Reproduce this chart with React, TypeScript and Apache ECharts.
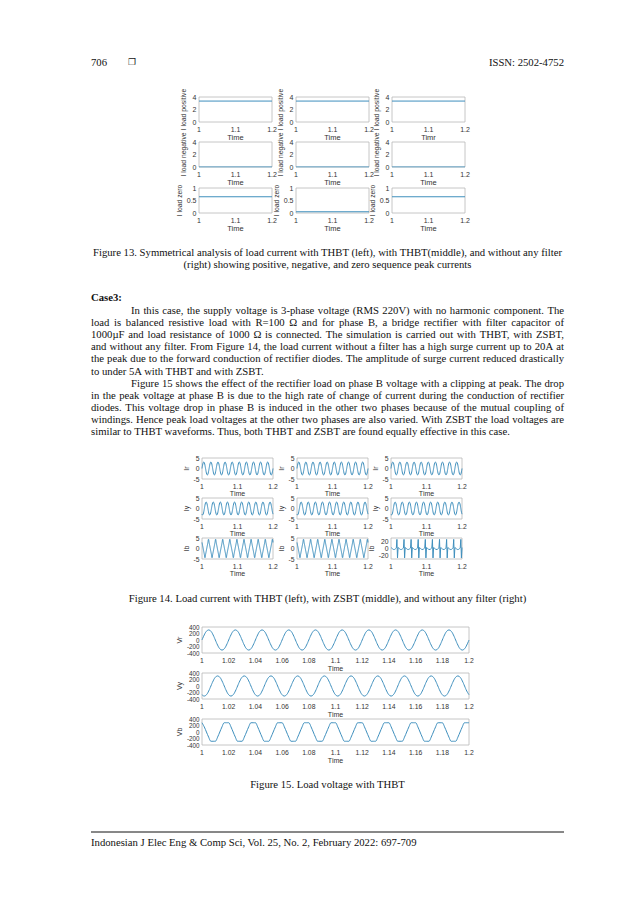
import React, { useEffect, useRef } from 'react';
import * as echarts from 'echarts';

const W = 638;
const H = 902;
const PAGE_FONT = "'Liberation Serif', 'Times New Roman', serif";
const PLOT_FONT = "'Liberation Sans', Arial, sans-serif";
const LINE_COLOR = '#3f8fbd';

// ---------- Figure 13: symmetrical components (constant levels) ----------
const FIG13_TIME = [1, 1.2];
const I_LOAD_POSITIVE = [3.35, 3.35, 3.35]; // THBT, THBT(middle), no filter
const I_LOAD_NEGATIVE = [0, 0, 0];
const I_LOAD_ZERO = [0.65, 0.05, 0.65];
const FIG13_YNAMES = ['I load positive', 'I load negative', 'I load zero'];
const FIG13_XNAMES = [
  ['Time', 'Time', 'Timr'],
  ['Time', 'Time', 'Time'],
  ['Time', 'Time', 'Time'],
];
const FIG13_YMAX = [4, 4, 1];
const FIG13_YSTEP = [2, 2, 0.5];

// ---------- Figure 14 / 15: one period (12 samples per 20 ms period) ----------
const PERIODS = 10;
const PERIOD_S = 0.02;
const T_START = 1;

const IR_THBT = [0, 1.55, 2.68, 3.1, 2.68, 1.55, 0, -1.55, -2.68, -3.1, -2.68, -1.55];
const IR_ZSBT = [0, 1.55, 2.68, 3.1, 2.68, 1.55, 0, -1.55, -2.68, -3.1, -2.68, -1.55];
const IR_NOFILTER = [0, 1.6, 2.7, 3.05, 2.7, 1.6, 0, -1.6, -2.7, -3.05, -2.7, -1.6];
const IY_THBT = [-2.68, -3.1, -2.68, -1.55, 0, 1.55, 2.68, 3.1, 2.68, 1.55, 0, -1.55];
const IY_ZSBT = [-2.68, -3.1, -2.68, -1.55, 0, 1.55, 2.68, 3.1, 2.68, 1.55, 0, -1.55];
const IY_NOFILTER = [-2.7, -3.05, -2.7, -1.6, 0, 1.6, 2.7, 3.05, 2.7, 1.6, 0, -1.6];
const IB_THBT = [2.9, 1.45, 0, -1.45, -2.9, -4.4, -2.9, -1.45, 0, 1.45, 2.9, 4.4];
const IB_ZSBT = [2.9, 1.45, 0, -1.45, -2.9, -4.4, -2.9, -1.45, 0, 1.45, 2.9, 4.4];
const IB_NOFILTER = [2.7, 1.5, 0, -1.5, -2.7, -3.1, -2.7, -1.5, 0, 1.5, 26, -27];

const VR_THBT = [0, 155, 268, 310, 268, 155, 0, -155, -268, -310, -268, -155];
const VY_THBT = [-268, -310, -268, -155, 0, 155, 268, 310, 268, 155, 0, -155];
const VB_THBT = [285, 160, 0, -160, -285, -285, -285, -160, 0, 160, 285, 285];

const FIG14_ROWS = [
  { name: 'Ir', cols: [IR_THBT, IR_ZSBT, IR_NOFILTER] },
  { name: 'Iy', cols: [IY_THBT, IY_ZSBT, IY_NOFILTER] },
  { name: 'Ib', cols: [IB_THBT, IB_ZSBT, IB_NOFILTER] },
];
const FIG15_ROWS = [
  { name: 'Vr', data: VR_THBT },
  { name: 'Vy', data: VY_THBT },
  { name: 'Vb', data: VB_THBT },
];
const FIG15_XTICK_STEP = 0.02;

// ---------- page text ----------
const HEADER_LEFT = '706';
const HEADER_MARK = '\u2750';
const HEADER_RIGHT = 'ISSN: 2502-4752';
const CAPTION13 = [
  'Figure 13. Symmetrical analysis of load current with THBT (left), with THBT(middle), and without any filter',
  '(right) showing positive, negative, and zero sequence peak currents',
];
const CASE_TITLE = 'Case3:';
const PARAGRAPH_LINES = [
  { t: 'In this case, the supply voltage is 3-phase voltage (RMS 220V) with no harmonic component. The', indent: true, just: true },
  { t: 'load is balanced resistive load with R=100 \u03A9 and for phase B, a bridge rectifier with filter capacitor of', indent: false, just: true },
  { t: '1000\u00B5F and load resistance of 1000 \u03A9 is connected. The simulation is carried out with THBT, with ZSBT,', indent: false, just: true },
  { t: 'and without any filter. From Figure 14, the load current without a filter has a high surge current up to 20A at', indent: false, just: true },
  { t: 'the peak due to the forward conduction of rectifier diodes. The amplitude of surge current reduced drastically', indent: false, just: true },
  { t: 'to under 5A with THBT and with ZSBT.', indent: false, just: false },
  { t: 'Figure 15 shows the effect of the rectifier load on phase B voltage with a clipping at peak. The drop', indent: true, just: true },
  { t: 'in the peak voltage at phase B is due to the high rate of change of current during the conduction of rectifier', indent: false, just: true },
  { t: 'diodes. This voltage drop in phase B is induced in the other two phases because of the mutual coupling of', indent: false, just: true },
  { t: 'windings. Hence peak load voltages at the other two phases are also varied. With ZSBT the load voltages are', indent: false, just: true },
  { t: 'similar to THBT waveforms. Thus, both THBT and ZSBT are found equally effective in this case.', indent: false, just: false },
];
const CAPTION14 = 'Figure 14. Load current with THBT (left), with ZSBT (middle), and without any filter (right)';
const CAPTION15 = 'Figure 15. Load voltage with THBT';
const FOOTER = 'Indonesian J Elec Eng & Comp Sci, Vol. 25, No. 2, February 2022: 697-709';

// ---------- layout ----------
const COL_L = 91;
const COL_R = 564;
const BODY_SIZE = 10.7;

function tile(period: number[]) {
  const n = period.length;
  const out: number[][] = [];
  for (let k = 0; k < PERIODS; k++) {
    for (let i = 0; i < n; i++) {
      out.push([T_START + ((k * n + i) * PERIOD_S) / n, period[i]]);
    }
  }
  out.push([T_START + PERIODS * PERIOD_S, period[0]]);
  return out;
}

let measureCtx: CanvasRenderingContext2D | null = null;
function measure(text: string, size: number, weight = 'normal') {
  if (!measureCtx) measureCtx = document.createElement('canvas').getContext('2d');
  measureCtx!.font = `${weight} ${size}px ${PAGE_FONT}`;
  return measureCtx!.measureText(text).width;
}

function textEl(text: string, x: number, y: number, size: number, align = 'left', weight = 'normal', family = PAGE_FONT, fill = '#111') {
  return {
    type: 'text',
    x,
    y,
    silent: true,
    style: {
      text,
      fontSize: size,
      fontFamily: family,
      fontWeight: weight,
      fill,
      textAlign: align,
      textVerticalAlign: 'middle',
      verticalAlign: 'middle',
    },
  };
}

function justified(line: string, x0: number, x1: number, y: number, size: number) {
  const words = line.split(' ');
  const widths = words.map((w) => measure(w, size));
  const total = widths.reduce((a, b) => a + b, 0);
  let gap = (x1 - x0 - total) / (words.length - 1);
  if (gap < 1.5) gap = 1.5;
  const els: any[] = [];
  let x = x0;
  words.forEach((w, i) => {
    els.push(textEl(w, x, y, size));
    x += widths[i] + gap;
  });
  return els;
}

function fmt(v: number) {
  return String(Math.round(v * 1000) / 1000);
}

function buildOption() {
  const grid: any[] = [];
  const xAxis: any[] = [];
  const yAxis: any[] = [];
  const series: any[] = [];

  const addPlot = (p: any) => {
    const idx = grid.length;
    grid.push({
      left: p.left,
      top: p.top,
      width: p.width,
      height: p.height,
      show: true,
      borderColor: '#b8b8b8',
      borderWidth: 0.8,
      backgroundColor: 'transparent',
    });
    xAxis.push({
      gridIndex: idx,
      type: 'value',
      min: p.xMin,
      max: p.xMax,
      interval: p.xStep,
      axisLine: { show: false },
      axisTick: { show: false },
      splitLine: { show: false },
      axisLabel: {
        fontSize: p.tickSize,
        color: '#333',
        fontFamily: PLOT_FONT,
        margin: p.xMargin,
        showMinLabel: true,
        showMaxLabel: true,
        hideOverlap: false,
        formatter: (v: number) => fmt(v),
      },
      name: p.xName,
      nameLocation: 'middle',
      nameGap: p.xNameGap,
      nameTextStyle: { fontSize: p.xNameSize, color: '#333', fontFamily: PLOT_FONT },
    });
    yAxis.push({
      gridIndex: idx,
      type: 'value',
      min: p.yMin,
      max: p.yMax,
      interval: p.yStep,
      axisLine: { show: false },
      axisTick: { show: false },
      splitLine: { show: false },
      axisLabel: {
        fontSize: p.yTickSize || p.tickSize,
        color: '#333',
        fontFamily: PLOT_FONT,
        margin: 2.5,
        showMinLabel: true,
        showMaxLabel: true,
        hideOverlap: false,
        formatter: (v: number) => (p.yShow && !p.yShow.includes(Math.round(v)) ? '' : fmt(v)),
      },
      name: p.yName,
      nameLocation: 'middle',
      nameRotate: 90,
      nameGap: p.yNameGap,
      nameTextStyle: { fontSize: p.yNameSize, color: '#333', fontFamily: PLOT_FONT },
    });
    series.push({
      type: 'line',
      xAxisIndex: idx,
      yAxisIndex: idx,
      data: p.data,
      showSymbol: false,
      smooth: p.smooth,
      lineStyle: { color: LINE_COLOR, width: 1 },
      itemStyle: { color: LINE_COLOR },
    });
  };

  // Figure 13
  const f13Cols = [199, 296, 392];
  const f13Rows = [97, 142, 188];
  const f13Vals = [I_LOAD_POSITIVE, I_LOAD_NEGATIVE, I_LOAD_ZERO];
  for (let r = 0; r < 3; r++) {
    for (let c = 0; c < 3; c++) {
      addPlot({
        left: f13Cols[c], top: f13Rows[r], width: 73, height: 25,
        xMin: 1, xMax: 1.2, xStep: 0.1,
        yMin: 0, yMax: FIG13_YMAX[r], yStep: FIG13_YSTEP[r],
        tickSize: 7, xNameSize: 7.5, yNameSize: 6.8, xMargin: 3.5, xNameGap: 11.5,
        xName: FIG13_XNAMES[r][c], yName: FIG13_YNAMES[r], yNameGap: 12,
        data: FIG13_TIME.map((t) => [t, f13Vals[r][c]]), smooth: false,
      });
    }
  }

  // Figure 14
  const f14Cols = [202, 297, 391];
  const f14Rows = [458, 498, 538];
  for (let r = 0; r < 3; r++) {
    for (let c = 0; c < 3; c++) {
      const big = r === 2 && c === 2;
      addPlot({
        left: f14Cols[c], top: f14Rows[r], width: 71, height: 21,
        xMin: 1, xMax: 1.2, xStep: 0.1,
        yMin: big ? -30 : -5, yMax: big ? 30 : 5, yStep: big ? 10 : 5,
        yShow: big ? [-20, 0, 20] : null,
        tickSize: 6.8, xNameSize: 7, yNameSize: 7, xMargin: 3.5, xNameGap: 11,
        xName: 'Time', yName: FIG14_ROWS[r].name, yNameGap: big ? 13 : 8,
        data: tile(FIG14_ROWS[r].cols[c]), smooth: !big,
      });
    }
  }

  // Figure 15
  const f15Rows = [627, 673, 719];
  for (let r = 0; r < 3; r++) {
    addPlot({
      left: 202, top: f15Rows[r], width: 267, height: 26,
      xMin: 1, xMax: 1.2, xStep: FIG15_XTICK_STEP,
      yMin: -400, yMax: 400, yStep: 200,
      tickSize: 6.8, yTickSize: 6.3, xNameSize: 7, yNameSize: 7, xMargin: 4, xNameGap: 12,
      xName: 'Time', yName: FIG15_ROWS[r].name, yNameGap: 15,
      data: tile(FIG15_ROWS[r].data), smooth: r === 2 ? 0.3 : true,
    });
  }

  // page text
  const graphic: any[] = [];
  graphic.push(textEl(HEADER_LEFT, COL_L, 62, BODY_SIZE));
  graphic.push(textEl(HEADER_MARK, 128, 62, 9, 'left', 'normal', "'DejaVu Sans', sans-serif"));
  graphic.push(textEl(HEADER_RIGHT, COL_R, 62, BODY_SIZE, 'right'));

  const mid = (COL_L + COL_R) / 2;
  graphic.push(textEl(CAPTION13[0], mid, 251.5, BODY_SIZE, 'center'));
  graphic.push(textEl(CAPTION13[1], mid, 264, BODY_SIZE, 'center'));

  graphic.push(textEl(CASE_TITLE, COL_L, 297, BODY_SIZE, 'left', 'bold'));
  const lineY0 = 310;
  const lineStep = 12.1;
  PARAGRAPH_LINES.forEach((ln, i) => {
    const y = lineY0 + i * lineStep;
    const x0 = COL_L + (ln.indent ? 40 : 0);
    if (ln.just) graphic.push(...justified(ln.t, x0, COL_R, y, BODY_SIZE));
    else graphic.push(textEl(ln.t, x0, y, BODY_SIZE));
  });

  graphic.push(textEl(CAPTION14, mid, 598, BODY_SIZE, 'center'));
  graphic.push(textEl(CAPTION15, mid, 784, BODY_SIZE, 'center'));

  graphic.push({
    type: 'line',
    silent: true,
    shape: { x1: COL_L, y1: 832, x2: COL_R, y2: 832 },
    style: { stroke: '#111', lineWidth: 1 },
  });
  graphic.push(textEl(FOOTER, COL_L, 842, BODY_SIZE));

  return {
    animation: false,
    backgroundColor: '#ffffff',
    grid,
    xAxis,
    yAxis,
    series,
    graphic: { elements: graphic },
  };
}

export default function App() {
  const ref = useRef<HTMLDivElement>(null);
  useEffect(() => {
    const chart = echarts.init(ref.current!, null, { renderer: 'svg', width: W, height: H });
    chart.setOption(buildOption() as any);
    return () => chart.dispose();
  }, []);
  return (
    <div
      ref={ref}
      style={{ position: 'absolute', left: 0, top: 0, width: W, height: H, background: '#fff' }}
    />
  );
}
